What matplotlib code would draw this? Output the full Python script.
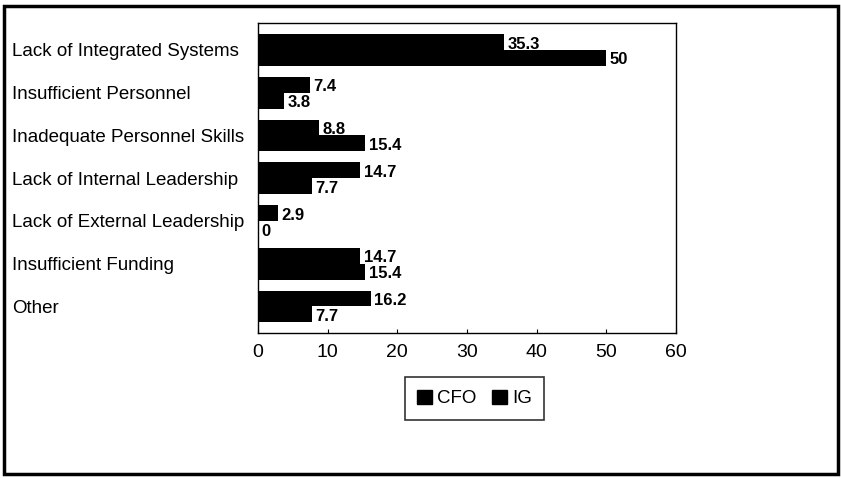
import numpy as np
import matplotlib.pyplot as plt
from matplotlib.patches import Patch, Rectangle

plt.rcParams['font.family'] = ['Liberation Sans', 'DejaVu Sans']

# ----------------------------> data <----------------------------
Categories = ["Lack of Integrated Systems", "Insufficient Personnel",
              "Inadequate Personnel Skills", "Lack of Internal Leadership",
              "Lack of External Leadership", "Insufficient Funding", "Other"]
CFO = [35.3, 7.4, 8.8, 14.7, 2.9, 14.7, 16.2]
IG = [50, 3.8, 15.4, 7.7, 0, 15.4, 7.7]
Series_Names = ["CFO", "IG"]
X_Ticks = [0, 10, 20, 30, 40, 50, 60]

W, H = 841, 478
fig = plt.figure(figsize=(W / 100, H / 100), dpi=100)
ax = fig.add_axes([258 / W, 1 - 333 / H, (676 - 258) / W, (333 - 23) / H])

pos = np.arange(len(Categories))
h = 0.37
cfo_bars = ax.barh(pos - h / 2, CFO, height=h, color='black')
ig_bars = ax.barh(pos + h / 2, IG, height=h, color='black')

# value labels at the end of each bar
for bars, vals in [(cfo_bars, CFO), (ig_bars, IG)]:
    for b, v in zip(bars, vals):
        ax.text(v + 0.5, b.get_y() + b.get_height() / 2 + 0.05, "%g" % v,
                ha='left', va='center', fontsize=12, fontweight='bold')

ax.set_xlim(0, 60)
ax.set_ylim(6.62, -0.63)
ax.set_xticks(X_Ticks)
ax.tick_params(axis='x', direction='in', length=3, labelsize=14, pad=8)

ax.set_yticks(pos)
ax.set_yticklabels(Categories, fontsize=13.5)
for t in ax.get_yticklabels():
    t.set_horizontalalignment('left')
ax.tick_params(axis='y', length=0, pad=(258 - 12) * 0.72)

for s in ax.spines.values():
    s.set_linewidth(1)
    s.set_color('black')

# legend
handles = [Patch(color='black', label=n) for n in Series_Names]
leg = fig.legend(handles=handles, loc='center', ncol=2,
                 bbox_to_anchor=((403 + 546) / 2 / W, 1 - 398.5 / H),
                 bbox_transform=fig.transFigure, fontsize=13.5,
                 handlelength=0.8, handleheight=0.8, handletextpad=0.3,
                 columnspacing=0.8, fancybox=False, borderpad=0.65)
leg.get_frame().set_edgecolor('black')
leg.get_frame().set_linewidth(1.2)

# outer chart border
fig.patches.append(Rectangle((4 / W, 4 / H), (838 - 4) / W, (472 - 4) / H,
                             transform=fig.transFigure, fill=False,
                             edgecolor='black', linewidth=2.5))

fig.savefig("out.png", dpi=100)
